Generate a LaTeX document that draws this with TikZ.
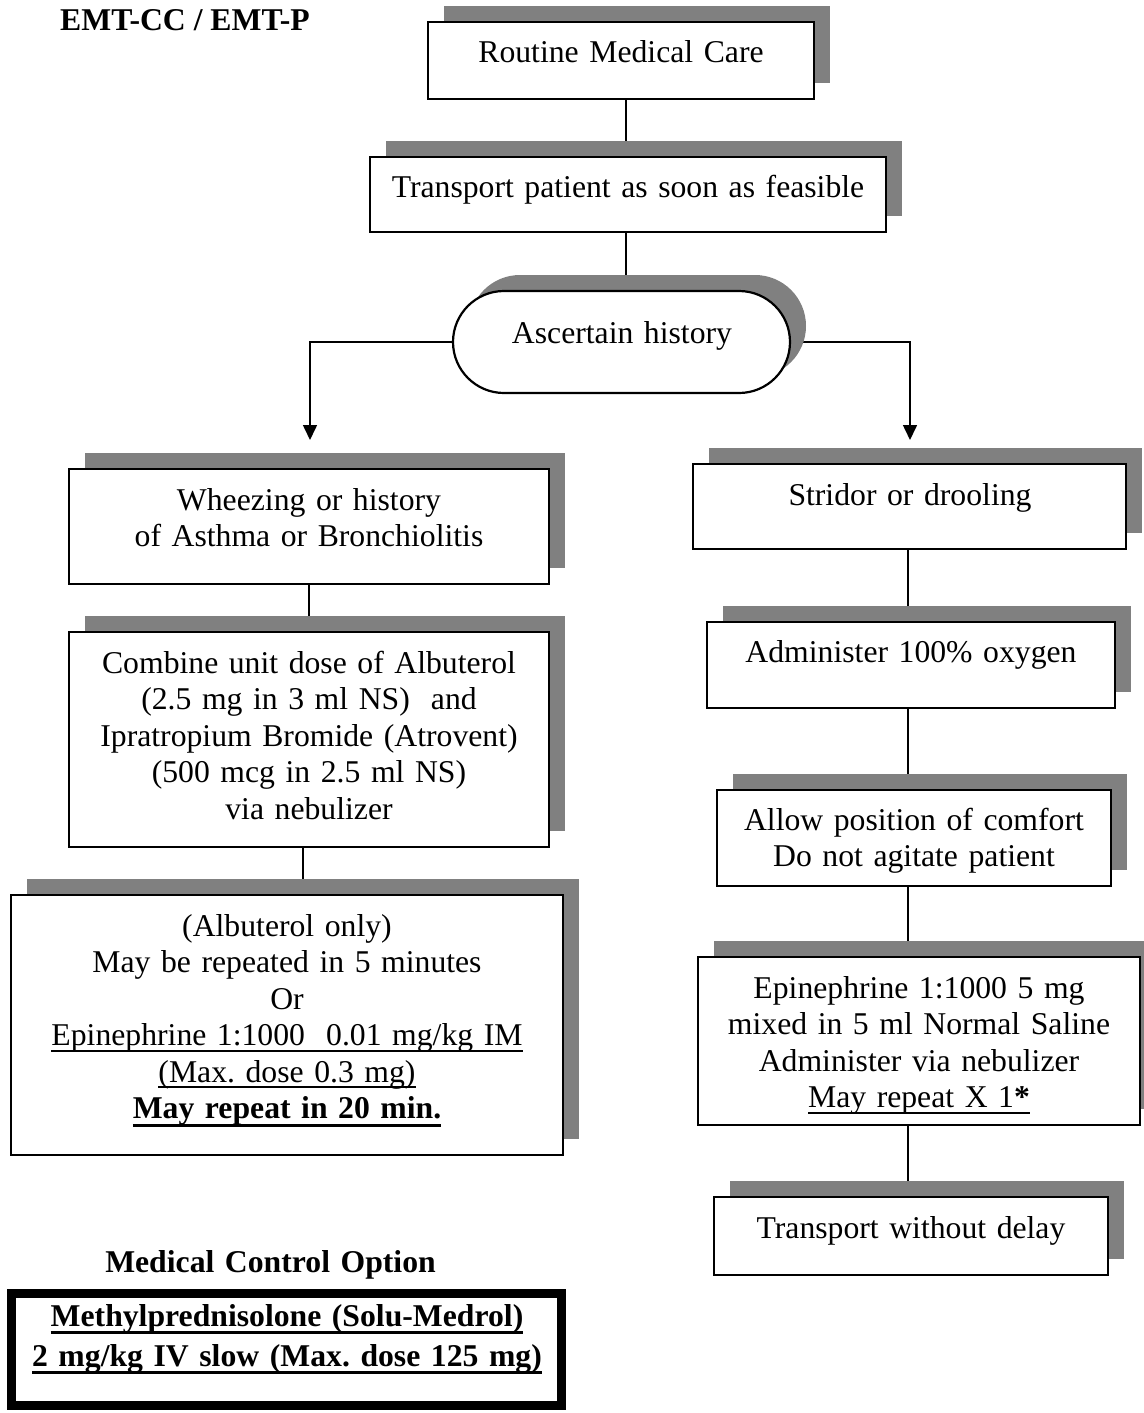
\documentclass[tikz,border=0pt]{standalone}
\usepackage{fontspec}
\setmainfont{Liberation Serif}
\usetikzlibrary{shapes.misc,shadows,arrows.meta,backgrounds}
\definecolor{shadowgray}{HTML}{808080}
\newcommand\bodyfont{\fontsize{31.7}{36.5}\selectfont\frenchspacing}
\newsavebox\ulbox
\newcommand\ulin[1]{\leavevmode\sbox\ulbox{#1}\rlap{\rule[-6pt]{\wd\ulbox}{2pt}}\usebox\ulbox}
\newcommand\ulinb[1]{\leavevmode\sbox\ulbox{#1}\rlap{\rule[-8pt]{\wd\ulbox}{3pt}}\usebox\ulbox}
\begin{document}
\begin{tikzpicture}[x=1pt,y=-1pt,
  every node/.style={font=\bodyfont},
  sbox/.style={draw=black, line width=2.2pt, fill=white, rectangle, inner sep=0pt, outer sep=0pt, anchor=north west,
      drop shadow={shadow xshift=16pt, shadow yshift=16pt, fill=shadowgray, opacity=1}},
  txt/.style={anchor=base, text width=600pt, align=center, inner sep=0pt},
  conn/.style={line width=1.6pt, draw=black},
  arr/.style={conn, -{Triangle[width=14pt,length=15pt]}},
]
\useasboundingbox (0,0) rectangle (1143,1413);

% title
\node[anchor=base west, inner sep=0pt, font=\bodyfont\bfseries] (title) at (60,31) {EMT-CC / EMT-P};

% boxes
\node[sbox, minimum width=386pt, minimum height=77pt] (rmc) at (428,22) {};
\node[sbox, minimum width=516pt, minimum height=75pt] (tp) at (370,157) {};
\node[draw=black, line width=2.2pt, fill=white, rounded rectangle, inner sep=0pt, outer sep=0pt,
      minimum width=337pt, minimum height=102pt,
      drop shadow={shadow xshift=16pt, shadow yshift=16pt, fill=shadowgray, opacity=1}] (ah) at (621.5,342) {};

\node[sbox, minimum width=480pt, minimum height=115pt] (wheeze) at (69,469) {};
\node[sbox, minimum width=480pt, minimum height=215pt] (combine) at (69,632) {};
\node[sbox, minimum width=552pt, minimum height=260pt] (albut) at (11,895) {};

\node[sbox, minimum width=433pt, minimum height=85pt] (stridor) at (693,464) {};
\node[sbox, minimum width=408pt, minimum height=86pt] (oxygen) at (707,622) {};
\node[sbox, minimum width=394pt, minimum height=96pt] (allow) at (717,790) {};
\node[sbox, minimum width=442pt, minimum height=168pt] (epi) at (698,957) {};
\node[sbox, minimum width=394pt, minimum height=78pt] (twd) at (714,1197) {};

\node[draw=black, line width=9pt, rectangle, inner sep=0pt, outer sep=0pt, anchor=north west,
      minimum width=550pt, minimum height=112pt] (mcbox) at (11.5,1293.5) {};

% texts
\node[txt] (trmc) at (621,63) {Routine Medical Care};
\node[txt] (ttp) at (628,197) {Transport patient as soon as feasible};
\node[txt] (tah) at (622,343) {Ascertain history};
\node[txt] (twheeze) at (309,510) {Wheezing or history\\of Asthma or Bronchiolitis};
\node[txt] (tcombine) at (309,673) {Combine unit dose of Albuterol\\(2.5 mg in 3 ml NS)\ \ and\\Ipratropium Bromide (Atrovent)\\(500 mcg in 2.5 ml NS)\\via nebulizer};
\node[txt] (talbut) at (287,936) {(Albuterol only)\\May be repeated in 5 minutes\\Or\\\ulin{Epinephrine 1:1000\ \ 0.01 mg/kg IM}\\\ulin{(Max. dose 0.3 mg)}\\\ulinb{\bfseries May repeat in 20 min.}};
\node[txt] (tstridor) at (910,505) {Stridor or drooling};
\node[txt] (toxygen) at (911,662) {Administer 100\% oxygen};
\node[txt] (tallow) at (914,830) {Allow position of comfort\\Do not agitate patient};
\node[txt] (tepi) at (919,998) {Epinephrine 1:1000 5 mg\\mixed in 5 ml Normal Saline\\Administer via nebulizer\\\ulin{May repeat X 1\textbf{*}}};
\node[txt] (ttwd) at (911,1238) {Transport without delay};
\node[txt, font=\bodyfont\bfseries] (tmco) at (270.5,1272) {Medical Control Option};
\node[txt, font=\fontsize{31.7}{40}\selectfont\frenchspacing\bfseries] (tmcbox) at (287,1326) {\ulinb{Methylprednisolone (Solu-Medrol)}\\\ulinb{2 mg/kg IV slow (Max. dose 125 mg)}};

% connectors
\coordinate (cx) at (626,0);
\coordinate (cl) at (303,0);
\coordinate (cr) at (908,0);
\coordinate (la) at (310,440);
\coordinate (ra) at (910,440);
\begin{scope}[on background layer]
  \draw[conn] (rmc.south -| cx) -- (tp.north -| cx);
  \draw[conn] (tp.south -| cx) -- (ah.north -| cx);
  \draw[arr] (ah.west) -| (la);
  \draw[arr] (ah.east) -| (ra);
  \draw[conn] (wheeze.south) -- (combine.north);
  \draw[conn] (combine.south -| cl) -- (albut.north -| cl);
  \draw[conn] (stridor.south -| cr) -- (oxygen.north -| cr);
  \draw[conn] (oxygen.south -| cr) -- (allow.north -| cr);
  \draw[conn] (allow.south -| cr) -- (epi.north -| cr);
  \draw[conn] (epi.south -| cr) -- (twd.north -| cr);
\end{scope}
\end{tikzpicture}
\end{document}
